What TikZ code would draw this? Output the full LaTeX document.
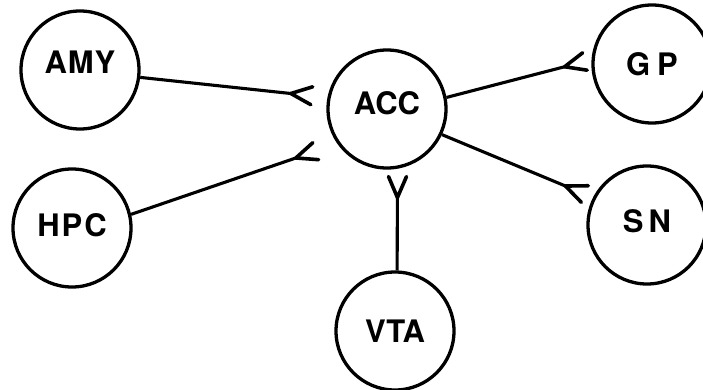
\documentclass[tikz,border=0pt]{standalone}
\usepackage{fontspec}
\setsansfont{TeX Gyre Heros}
\usetikzlibrary{arrows.meta}
\begin{document}
\begin{tikzpicture}[x=1pt,y=-1pt,
  region/.style={circle,draw,line width=3.3pt,minimum size=118pt,inner sep=0pt},
  txt/.style={font=\sffamily\bfseries\fontsize{31}{33}\selectfont,inner sep=0pt},
  link/.style={line width=3.1pt,-{Straight Barb[reversed,length=21pt,width=18pt,line width=3.6pt,round]}}]
\useasboundingbox (0,0) rectangle (703,390);
\clip (0,0) rectangle (703,390);
\node[region,label={[txt,yshift=8pt]center:A\kern1pt M\kern1pt Y}] (amy) at (80,70) {};
\node[region,label={[txt,yshift=6pt]center:ACC}] (acc) at (387,109) {};
\node[region,label={[txt,yshift=3pt]center:H\kern2pt P\kern2pt C}] (hpc) at (72,228) {};
\node[region,label={[txt]center:VTA}] (vta) at (395,331) {};
\node[region,label={[txt]center:G\kern7pt P}] (gp) at (652,64) {};
\node[region,label={[txt,yshift=4pt]center:S\kern5pt N}] (sn) at (647,225) {};
\draw[link,shorten >=14pt] (amy.-7) -- (acc.169);
\draw[link,shorten >=21pt] (hpc.13) -- (acc.215);
\draw[link,shorten >=5pt] (acc.11) -- (gp.176);
\draw[link,shorten >=7pt] (acc.-25) -- (sn.153);
\draw[link,shorten >=6pt] (vta.88) -- (acc.-80);
\end{tikzpicture}
\end{document}
